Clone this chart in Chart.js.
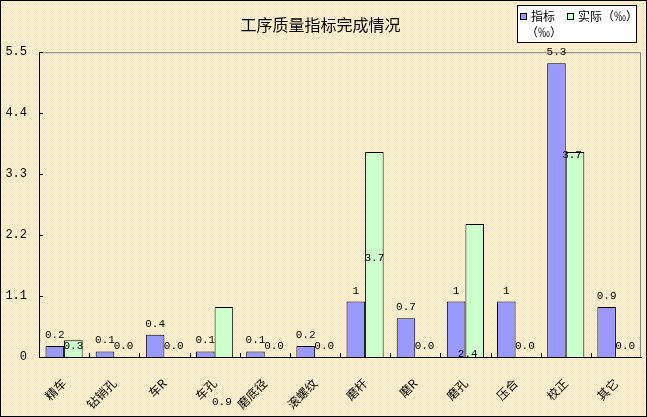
<!DOCTYPE html>
<html>
<head>
<meta charset="utf-8">
<script src="https://cdn.jsdelivr.net/npm/chart.js@4"></script>
<style>
  html, body { margin: 0; padding: 0; background: #f9edd2; }
  #wrap { width: 647px; height: 417px; }
</style>
</head>
<body>
<div id="wrap"><canvas id="myChart"></canvas></div>
<script>
const categories = ['精车', '钻销孔', '车R', '车孔', '磨底径', '滚螺纹', '磨杆', '磨R', '磨孔', '压合', '校正', '其它'];
const planValues = [0.2, 0.1, 0.4, 0.1, 0.1, 0.2, 1, 0.7, 1, 1, 5.3, 0.9];
const actualValues = [0.3, 0.0, 0.0, 0.9, 0.0, 0.0, 3.7, 0.0, 2.4, 0.0, 3.7, 0.0];
const planLabels = ['0.2', '0.1', '0.4', '0.1', '0.1', '0.2', '1', '0.7', '1', '1', '5.3', '0.9'];
const actualLabels = ['0.3', '0.0', '0.0', '0.9', '0.0', '0.0', '3.7', '0.0', '2.4', '0.0', '3.7', '0.0'];
const yTicks = [0, 1.1, 2.2, 3.3, 4.4, 5.5];

const ctx = document.getElementById('myChart');

// dithered background tile
const tile = document.createElement('canvas');
tile.width = 2; tile.height = 2;
const tctx = tile.getContext('2d');
tctx.fillStyle = '#fff8c6'; tctx.fillRect(0, 0, 2, 2);
tctx.fillStyle = '#f6e2d2'; tctx.fillRect(0, 0, 1, 1); tctx.fillRect(1, 1, 1, 1);

// where the excel labels of the green bars ended up (dx, baseline from zero line)
const greenLabelPos = {3: [-2, 48], 6: [0, -96], 8: [-7, 0], 10: [-3, -199]};

const chartDecor = {
  id: 'chartDecor',
  beforeDraw(chart) {
    const c = chart.ctx;
    c.save();
    c.fillStyle = c.createPattern(tile, 'repeat');
    c.fillRect(0, 0, chart.width, chart.height);
    c.restore();
  },
  afterDraw(chart) {
    const c = chart.ctx;
    const a = chart.chartArea;
    const x = chart.scales.x, y = chart.scales.y;
    c.save();
    // plot frame top / right
    c.strokeStyle = '#808080';
    c.lineWidth = 1;
    c.beginPath();
    c.moveTo(a.left, a.top + 0.5); c.lineTo(a.right - 0.5, a.top + 0.5); c.lineTo(a.right - 0.5, a.bottom);
    c.stroke();
    // inner tick marks
    c.strokeStyle = '#000';
    c.beginPath();
    yTicks.forEach(v => {
      const py = Math.round(y.getPixelForValue(v)) + 0.5;
      c.moveTo(a.left, py); c.lineTo(a.left + 4, py);
    });
    for (let i = 1; i < categories.length; i++) {
      const px = Math.round((x.getPixelForValue(i - 1) + x.getPixelForValue(i)) / 2) + 0.5;
      c.moveTo(px, a.bottom); c.lineTo(px, a.bottom - 4);
    }
    c.stroke();

    // data labels
    c.fillStyle = '#000';
    c.font = '11px "Liberation Mono"';
    c.textAlign = 'center';
    c.textBaseline = 'alphabetic';
    const zero = y.getPixelForValue(0);
    chart.getDatasetMeta(0).data.forEach((bar, i) => {
      c.fillText(planLabels[i], bar.x, bar.y - 8);
    });
    chart.getDatasetMeta(1).data.forEach((bar, i) => {
      const p = greenLabelPos[i] || [0, -8];
      c.fillText(actualLabels[i], bar.x + p[0], zero + p[1]);
    });

    // legend
    c.fillStyle = '#fff';
    c.fillRect(517, 5, 120, 38);
    c.strokeStyle = '#000';
    c.strokeRect(517.5, 5.5, 119, 37);
    c.font = '12px "Noto Sans CJK SC"';
    c.textAlign = 'left';
    c.textBaseline = 'middle';
    const ds = chart.data.datasets;
    c.fillStyle = ds[0].backgroundColor;
    c.fillRect(520, 13, 7, 7);
    c.strokeRect(520.5, 13.5, 6, 6);
    c.fillStyle = '#000';
    c.fillText('指标', 531, 16);
    c.fillText('（‰）', 526, 32);
    c.fillStyle = ds[1].backgroundColor;
    c.fillRect(567, 13, 7, 7);
    c.strokeRect(567.5, 13.5, 6, 6);
    c.fillStyle = '#000';
    c.fillText(ds[1].label, 578, 16);

    // outer frame
    c.strokeStyle = '#000';
    c.strokeRect(0.5, 0.5, chart.width - 1, chart.height - 1);
    c.restore();
  }
};

const data = {
  labels: categories,
  datasets: [{
    label: '指标（‰）',
    data: planValues,
    backgroundColor: '#9999ff',
    borderColor: '#000',
    borderWidth: 1,
    borderSkipped: 'bottom'
  }, {
    label: '实际（‰）',
    data: actualValues,
    backgroundColor: '#ccffcc',
    borderColor: '#000',
    borderWidth: 1,
    borderSkipped: 'bottom'
  }]
};

const config = {
  type: 'bar',
  data,
  options: {
    responsive: true,
    maintainAspectRatio: false,
    animation: false,
    devicePixelRatio: 1,
    layout: { padding: { left: 0, right: 6, top: 0, bottom: 0 } },
    datasets: { bar: { categoryPercentage: 0.74, barPercentage: 1 } },
    plugins: {
      legend: { display: false },
      tooltip: { enabled: false },
      title: {
        display: true,
        text: '工序质量指标完成情况',
        color: '#000',
        font: { family: 'Noto Sans CJK SC', size: 16, weight: 'normal' },
        padding: { top: 15, bottom: 18 }
      }
    },
    scales: {
      x: {
        grid: { display: false },
        border: { display: true, color: '#000', width: 1 },
        ticks: {
          color: '#000',
          font: { family: 'Noto Sans CJK SC', size: 12 },
          minRotation: 45,
          maxRotation: 45,
          autoSkip: false,
          padding: 11
        },
        afterFit(scale) { scale.height = 60; }
      },
      y: {
        min: 0,
        max: 5.5,
        afterBuildTicks(scale) { scale.ticks = yTicks.map(v => ({ value: v })); },
        grid: { display: false },
        border: { display: true, color: '#000', width: 1 },
        ticks: {
          color: '#000',
          font: { family: 'Liberation Mono', size: 12 },
          padding: 4,
          callback: v => (v === 0 ? '0' : v.toFixed(1))
        },
        afterFit(scale) { scale.width = 39; }
      }
    }
  },
  plugins: [chartDecor]
};

let myChart = new Chart(ctx, config);
</script>
</body>
</html>
